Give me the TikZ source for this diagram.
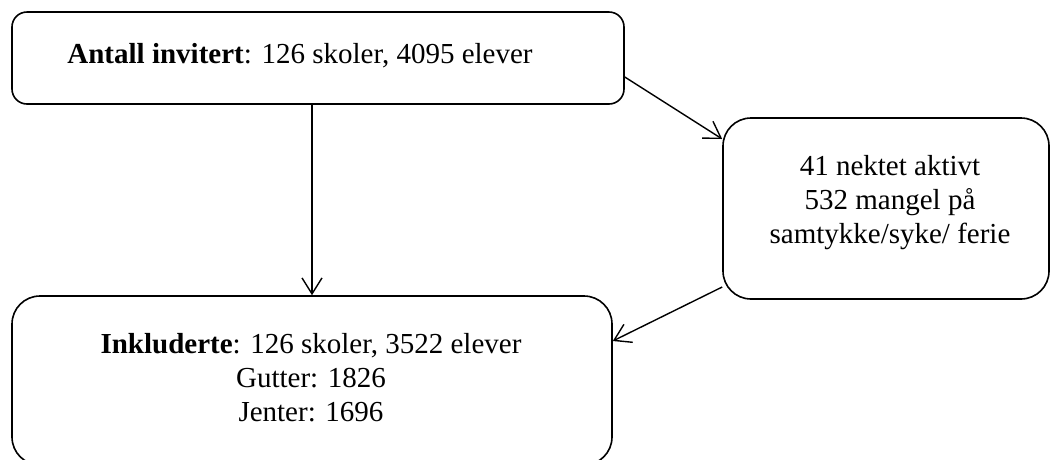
\documentclass[tikz,border=0pt]{standalone}
\usepackage{fontspec}
\setmainfont{Liberation Serif}
\usetikzlibrary{arrows.meta,calc}
\begin{document}
\begin{tikzpicture}[x=1pt,y=-1pt,
  box/.style={draw, line width=1.6pt, rounded corners=#1, inner sep=0pt},
  txt/.style={inner sep=0pt, anchor=base, font=\fontsize{29}{34}\selectfont},
  arr/.style={-{Straight Barb[length=16pt,width=20pt]}, line width=1.4pt}]
\useasboundingbox (0,0) rectangle (1052,459);
\node[box=15pt, minimum width=612pt, minimum height=92pt] (top) at (318,58) {};
\node[box=28pt, minimum width=326pt, minimum height=181pt] (side) at (886,208.5) {};
\node[box=28pt, minimum width=600pt, minimum height=169pt] (bot) at (312,380.5) {};
\node[txt] (t1) at (300,63) {\textbf{Antall invitert}: 126 skoler, 4095 elever};
\node[txt] (s1) at (890,175) {41 nektet aktivt};
\node[txt] (s2) at (890,209) {532 mangel på};
\node[txt] (s3) at (890,243) {samtykke/syke/ ferie};
\node[txt] (b1) at (311,353) {\textbf{Inkluderte}: 126 skoler, 3522 elever};
\node[txt] (b2) at (311,387) {Gutter: 1826};
\node[txt] (b3) at (311,421) {Jenter: 1696};
\draw[arr] (bot.north |- top.south) -- (bot.north);
\draw[arr] ([yshift=-19pt]top.east) -- ([yshift=69.5pt]side.west);
\draw[arr] ([yshift=-78.5pt]side.west) -- ([yshift=39.5pt]bot.east);
\end{tikzpicture}
\end{document}
